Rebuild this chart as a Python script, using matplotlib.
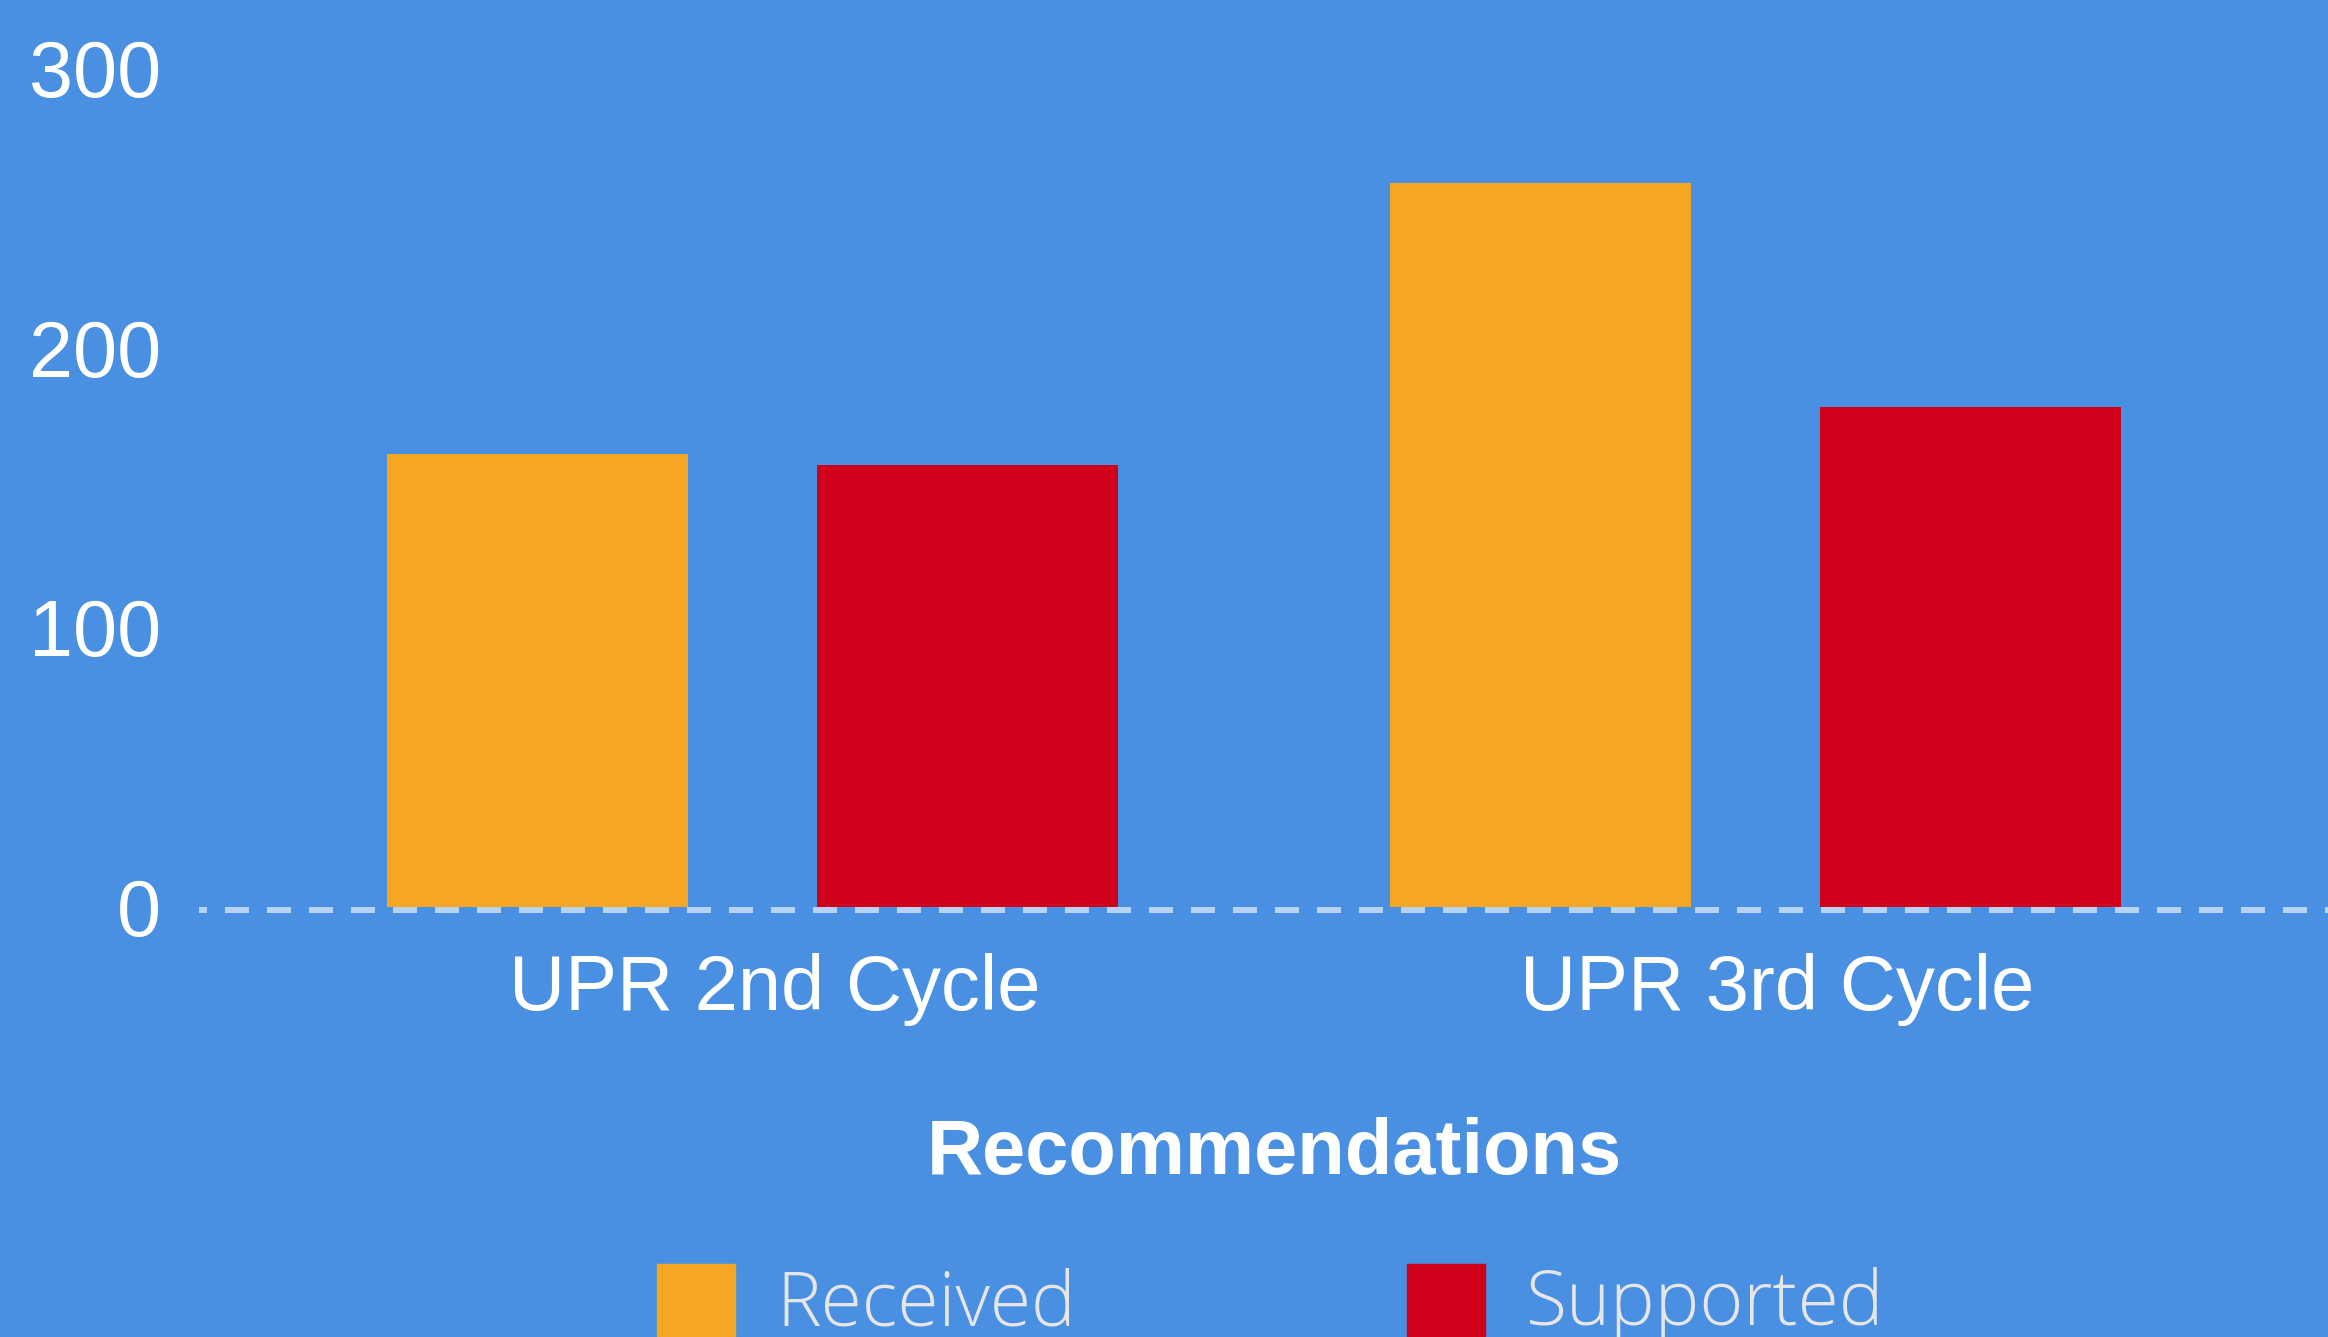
import matplotlib
matplotlib.use("Agg")
import matplotlib.pyplot as plt
import matplotlib.patches as mpatches
import matplotlib.transforms as mtransforms
import numpy as np

categories = ["UPR 2nd Cycle", "UPR 3rd Cycle"]
series_names = ["Received", "Supported"]
received = [162, 259]
supported = [158, 179]
yticks = [0, 100, 200, 300]
xlabel = "Recommendations"

BG = "#4A90E2"
ORANGE = "#F5A623"
RED = "#D0021B"
DASH = "#B6D3F3"
LEGTXT = "#E6E6E6"

plt.rcParams["font.family"] = ["Liberation Sans", "DejaVu Sans"]

W, H, DPI = 2328, 1337, 100
fig = plt.figure(figsize=(W / DPI, H / DPI), dpi=DPI, facecolor=BG)
ax = fig.add_axes([199 / W, (H - 907) / H, 1 - 199 / W, 907 / H])
ax.set_facecolor(BG)

x = np.arange(len(categories))
bw = 0.300
off = 0.2144
ax.bar(x - off, received, bw, color=ORANGE, zorder=3)
ax.bar(x + off, supported, bw, color=RED, zorder=3)

ax.set_xlim(-0.5518, 1.5708)
ax.set_ylim(0, 324.5)

# dashed zero line (slightly below bar bottoms)
tr = ax.get_yaxis_transform() + mtransforms.ScaledTranslation(0, -3 / DPI, fig.dpi_scale_trans)
ax.plot([0, 1], [0, 0], transform=tr, color=DASH, lw=6 * 72 / DPI,
        linestyle=(2.67, (4, 3)), dash_capstyle="butt", zorder=2, clip_on=False)

for s in ax.spines.values():
    s.set_visible(False)

ax.set_yticks(yticks)
ax.set_yticklabels([str(v) for v in yticks])
ax.tick_params(axis="y", length=0, pad=27.5, labelsize=57, labelcolor="white")

ax.set_xticks(x)
ax.set_xticklabels(categories)
ax.tick_params(axis="x", length=0, pad=33, labelsize=56, labelcolor="white")
shift = mtransforms.ScaledTranslation(22 / DPI, 0, fig.dpi_scale_trans)
for lab in ax.get_xticklabels():
    lab.set_transform(lab.get_transform() + shift)

fig.text(1274 / W, 1 - 1174 / H, xlabel, ha="center", va="baseline",
         fontsize=56, fontweight="bold", color="white")

fs_leg = 54
em = fs_leg * DPI / 72
for name, col, xl in [(series_names[0], ORANGE, 657), (series_names[1], RED, 1407)]:
    h = mpatches.Patch(color=col)
    fig.legend(handles=[h], labels=[name], loc="upper left",
               bbox_to_anchor=(xl / W, 1 - 1264 / H), frameon=False,
               borderpad=0, borderaxespad=0, handlelength=78 / em,
               handleheight=82 / em, handletextpad=41 / em,
               prop={"family": ["Open Sans", "DejaVu Sans"], "weight": "light", "size": fs_leg},
               labelcolor=LEGTXT)

fig.savefig("out.png", dpi=DPI, facecolor=BG)
